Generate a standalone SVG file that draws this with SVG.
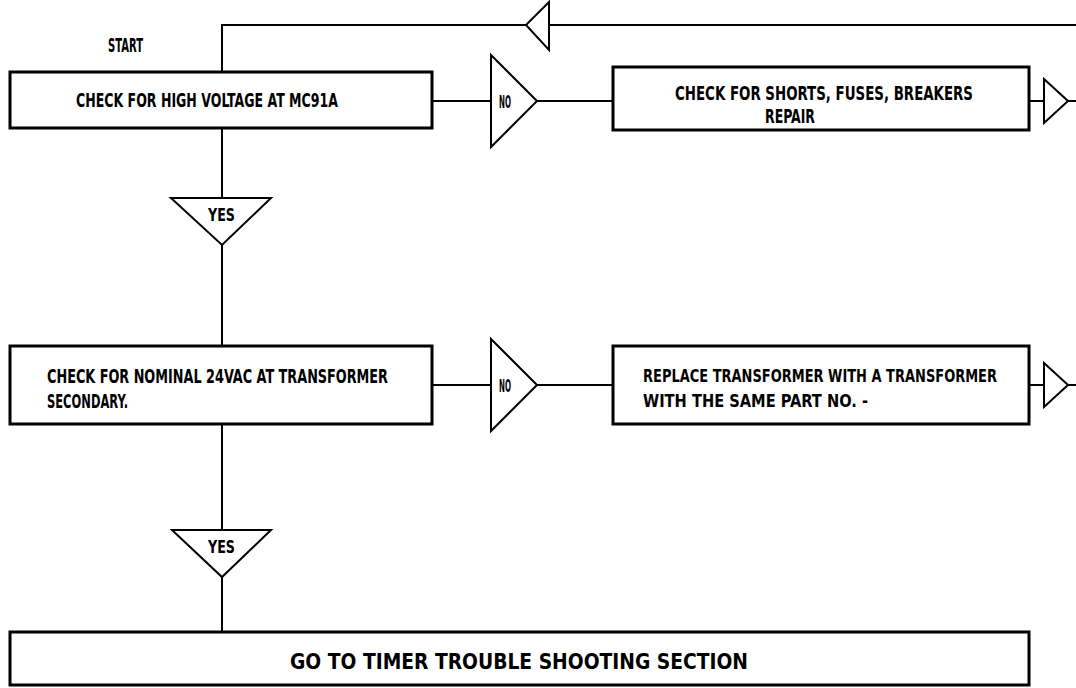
<svg xmlns="http://www.w3.org/2000/svg" width="1076" height="688" viewBox="0 0 1076 688">
<style>
.box{fill:none;stroke:#000;stroke-width:3}
.tri{fill:#fff;stroke:#000;stroke-width:2;stroke-linejoin:miter}
.ln{fill:none;stroke:#000;stroke-width:2}
text{font-family:"DejaVu Sans Condensed","DejaVu Sans","Liberation Sans",sans-serif;font-weight:bold;fill:#000;dominant-baseline:central}
.t{font-size:19px}
.r{font-size:17px}
.s{font-size:18px}
.b{font-size:21px}
</style>
<rect width="1076" height="688" fill="#fff"/>
<g id="connectors">
<path class="ln" d="M1076 25 H222 V72"/>
<path class="ln" d="M222 128 V198"/>
<path class="ln" d="M222 245 V346"/>
<path class="ln" d="M222 424 V530"/>
<path class="ln" d="M222 577 V632"/>
<path class="ln" d="M432 101 H613"/>
<path class="ln" d="M1029 101 H1076"/>
<path class="ln" d="M432 385 H613"/>
<path class="ln" d="M1029 385 H1076"/>
</g>
<g id="loop-arrow"><polygon class="tri" points="526,25 549,2 549,50"/></g>
<g id="start"><text class="t" x="108" y="45" textLength="35" lengthAdjust="spacingAndGlyphs">START</text></g>
<g id="box1">
<rect class="box" x="10" y="72" width="422" height="56"/>
<text class="t" x="76" y="100" textLength="262" lengthAdjust="spacingAndGlyphs">CHECK FOR HIGH VOLTAGE AT MC91A</text>
</g>
<g id="no1">
<polygon class="tri" points="491,55 537,101 491,147"/>
<text class="s" x="499" y="101" textLength="12" lengthAdjust="spacingAndGlyphs">NO</text>
</g>
<g id="box2">
<rect class="box" x="613" y="67" width="416" height="63"/>
<text class="t" x="675" y="93" textLength="298" lengthAdjust="spacingAndGlyphs">CHECK FOR SHORTS, FUSES, BREAKERS</text>
<text class="t" x="765" y="116" textLength="50" lengthAdjust="spacingAndGlyphs">REPAIR</text>
</g>
<g id="out1"><polygon class="tri" points="1044,79 1068,101 1044,123"/></g>
<g id="yes1">
<polygon class="tri" points="171,198 271,198 222,245"/>
<text class="s" x="208" y="214" textLength="27" lengthAdjust="spacingAndGlyphs">YES</text>
</g>
<g id="box3">
<rect class="box" x="10" y="346" width="422" height="78"/>
<text class="t" x="47" y="376" textLength="341" lengthAdjust="spacingAndGlyphs">CHECK FOR NOMINAL 24VAC AT TRANSFORMER</text>
<text class="t" x="47" y="401" textLength="81" lengthAdjust="spacingAndGlyphs">SECONDARY.</text>
</g>
<g id="no2">
<polygon class="tri" points="491,339 537,385 491,431"/>
<text class="s" x="499" y="385" textLength="12" lengthAdjust="spacingAndGlyphs">NO</text>
</g>
<g id="box4">
<rect class="box" x="613" y="346" width="416" height="78"/>
<text class="r" x="643" y="376" textLength="354" lengthAdjust="spacingAndGlyphs">REPLACE TRANSFORMER WITH A TRANSFORMER</text>
<text class="r" x="643" y="401" textLength="225" lengthAdjust="spacingAndGlyphs">WITH THE SAME PART NO. -</text>
</g>
<g id="out2"><polygon class="tri" points="1044,363 1068,385 1044,407"/></g>
<g id="yes2">
<polygon class="tri" points="172,530 271,530 222,577"/>
<text class="s" x="208" y="546" textLength="27" lengthAdjust="spacingAndGlyphs">YES</text>
</g>
<g id="box5">
<rect class="box" x="10" y="632" width="1019" height="53"/>
<text class="b" x="290" y="662" textLength="458" lengthAdjust="spacingAndGlyphs">GO TO TIMER TROUBLE SHOOTING SECTION</text>
</g>
</svg>
